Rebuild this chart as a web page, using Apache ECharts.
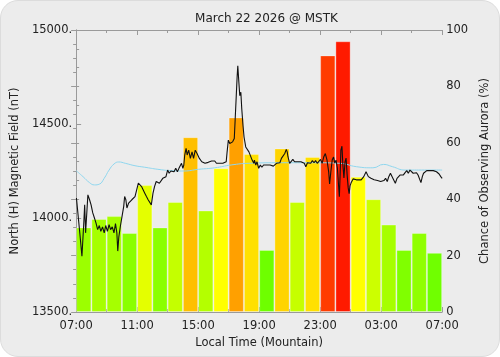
<!DOCTYPE html>
<html>
<head>
<meta charset="utf-8">
<script src="https://cdn.jsdelivr.net/npm/echarts@6/dist/echarts.min.js"></script>
<style>
  html, body { margin: 0; padding: 0; background: #ffffff; }
  #main { width: 500px; height: 357px; background: #ececec; border-radius: 18px; box-sizing: border-box; border: 1px solid #dcdcdc; }
</style>
</head>
<body>
<div id="main"></div>
<script>
// hourly aurora chance (%) starting 07:00 local
const hourCats = ["07", "08", "09", "10", "11", "12", "13", "14", "15", "16", "17", "18",
  "19", "20", "21", "22", "23", "00", "01", "02", "03", "04", "05", "06"];
const auroraChance = [30, 33, 34, 28, 45, 30, 39, 62, 36, 51, 69, 56,
  22, 58, 39, 55, 91, 96, 48, 40, 31, 22, 28, 21];
const barColors = ["#9cff00", "#a6ff00", "#a6ff00", "#8aff00", "#e4ff00", "#8aff00", "#c4ff00", "#ffbf00",
  "#b4ff00", "#ffff00", "#ffa000", "#ffe000", "#6eff00", "#ffd400", "#c6ff00", "#ffe000",
  "#ff3c00", "#ff1a00", "#ffff00", "#ccff00", "#a6ff00", "#80ff00", "#90ff00", "#70ff00"];

// time ticks every 4 hours
const timeLabels = ["07:00", "11:00", "15:00", "19:00", "23:00", "03:00", "07:00"];

// magnetometer trace: hours since 07:00, nT
const fieldHours = [
  0.02, 0.24, 0.38, 0.49, 0.56, 0.62, 0.77, 0.88, 0.98, 1.09, 1.2, 1.3, 1.41, 1.52, 1.62, 1.73, 1.84, 1.94,
  2.05, 2.16, 2.26, 2.37, 2.48, 2.58, 2.67, 2.73, 2.8, 2.9, 3.01, 3.12, 3.18, 3.26, 3.33, 3.44, 3.54, 3.65,
  3.76, 3.86, 3.97, 4.08, 4.18, 4.29, 4.4, 4.5, 4.61, 4.72, 4.82, 4.93, 5.04, 5.14, 5.25, 5.36, 5.46, 5.57,
  5.68, 5.78, 5.89, 6.0, 6.1, 6.21, 6.32, 6.42, 6.53, 6.64, 6.74, 6.85, 6.91, 7.0, 7.06, 7.12, 7.21, 7.28,
  7.38, 7.49, 7.6, 7.7, 7.81, 7.92, 7.98, 8.08, 8.24, 8.34, 8.45, 8.56, 8.66, 8.77, 8.88, 8.98, 9.09, 9.2,
  9.3, 9.41, 9.52, 9.62, 9.73, 9.84, 9.9, 9.98, 10.07, 10.16, 10.26, 10.37, 10.43, 10.5, 10.56, 10.6, 10.67,
  10.73, 10.8, 10.86, 10.94, 11.01, 11.12, 11.22, 11.33, 11.44, 11.54, 11.65, 11.69, 11.78, 11.86, 11.97,
  12.08, 12.18, 12.29, 12.4, 12.5, 12.61, 12.72, 12.82, 12.93, 13.04, 13.14, 13.25, 13.36, 13.46, 13.57,
  13.68, 13.78, 13.84, 13.89, 14.0, 14.1, 14.21, 14.32, 14.42, 14.53, 14.64, 14.74, 14.85, 14.96, 15.06,
  15.17, 15.28, 15.38, 15.49, 15.6, 15.7, 15.81, 15.92, 16.02, 16.13, 16.24, 16.34, 16.45, 16.56, 16.62,
  16.7, 16.79, 16.88, 16.96, 17.04, 17.13, 17.22, 17.26, 17.31, 17.36, 17.43, 17.49, 17.56, 17.63, 17.7,
  17.77, 17.84, 17.9, 17.96, 18.03, 18.16, 18.26, 18.37, 18.48, 18.69, 18.86, 19.01, 19.07, 19.16, 19.22,
  19.33, 19.44, 19.54, 19.65, 19.76, 19.86, 19.97, 20.08, 20.18, 20.29, 20.4, 20.5, 20.61, 20.72, 20.82,
  20.93, 21.04, 21.14, 21.25, 21.36, 21.46, 21.57, 21.68, 21.78, 21.89, 22.0, 22.1, 22.21, 22.32, 22.42,
  22.53, 22.61, 22.7, 22.78, 22.89, 22.99, 23.1, 23.21, 23.31, 23.42, 23.53, 23.63, 23.72, 23.8, 23.91, 24.0
];
const fieldNT = [
  14106, 13921, 13797, 13956, 14070, 13921, 14123, 14097, 14070, 14027, 14000, 13974, 13938, 13960, 13929, 13953, 13921, 13960,
  13929, 13965, 13938, 13953, 13921, 13970, 13921, 13824, 13900, 13956, 14009, 14062, 14114, 14097, 14053, 14079, 14070, 14097,
  14088, 14114, 14150, 14185, 14194, 14167, 14176, 14132, 14114, 14097, 14106, 14070, 14132, 14167, 14194, 14203, 14185, 14176,
  14211, 14203, 14220, 14255, 14238, 14250, 14255, 14246, 14264, 14246, 14264, 14255, 14291, 14264, 14282, 14335, 14370, 14335,
  14361, 14317, 14352, 14317, 14361, 14344, 14352, 14317, 14299, 14303, 14291, 14285, 14296, 14299, 14303, 14296, 14303, 14291,
  14299, 14291, 14296, 14291, 14291, 14299, 14352, 14414, 14396, 14387, 14405, 14423, 14528, 14651, 14757, 14810, 14722,
  14651, 14669, 14581, 14493, 14431, 14378, 14370, 14352, 14352, 14308, 14291, 14308, 14282, 14299, 14264,
  14282, 14270, 14282, 14273, 14282, 14273, 14282, 14273, 14276, 14282, 14291, 14299, 14294, 14317, 14326,
  14343, 14365, 14352, 14326, 14291, 14299, 14312, 14299, 14308, 14299, 14308, 14299, 14305, 14291, 14273,
  14294, 14299, 14291, 14305, 14294, 14305, 14291, 14299, 14312, 14291, 14326, 14343, 14308, 14245, 14181,
  14245, 14308, 14324, 14292, 14308, 14266, 14160, 14113, 14229, 14361, 14382, 14282, 14213, 14298, 14319,
  14229, 14160, 14129, 14171, 14187, 14208, 14218, 14203, 14211, 14203, 14220, 14246, 14238, 14220, 14229,
  14211, 14217, 14203, 14211, 14199, 14206, 14194, 14203, 14199, 14211, 14194, 14220, 14238, 14220, 14229,
  14185, 14211, 14220, 14229, 14238, 14229, 14241, 14252, 14238, 14255, 14246, 14238, 14229, 14241, 14229,
  14220, 14188, 14220, 14238, 14246, 14252, 14246, 14252, 14246, 14252, 14255, 14246, 14238, 14234, 14220, 14211
];

// smooth baseline (cyan)
const baseHours = [0, 0.45, 0.88, 1.2, 1.52, 1.84, 2.16, 2.48, 2.8, 3.22, 3.86, 4.5, 5.36, 6.21, 7.06, 8.02,
  9.09, 10.16, 11.33, 13.44, 15.62, 17.28, 18.37, 19.46, 20.16, 20.74, 21.57, 22.85, 24];
const baseNT = [14252, 14220, 14188, 14176, 14180, 14211, 14255, 14287, 14298, 14291, 14278, 14270, 14259, 14252, 14250, 14259,
  14267, 14282, 14291, 14294, 14294, 14291, 14273, 14267, 14285, 14273, 14255, 14255, 14255];

const chart = echarts.init(document.getElementById("main"));
const font = "DejaVu Sans";
const axisCol = "#9a9a9a";
const txt = "#222";

const option = {
  backgroundColor: "transparent",
  animation: false,
  textStyle: { fontFamily: font },
  title: {
    text: "March 22 2026 @ MSTK",
    left: 260.5, top: 7, textAlign: "center",
    textStyle: { fontFamily: font, fontSize: 12, fontWeight: "normal", color: txt }
  },
  grid: { left: 73, right: 52, top: 29, bottom: 44 },
  xAxis: [
    {
      type: "category", data: hourCats, show: false, boundaryGap: true
    },
    {
      type: "value", min: 0, max: 24, interval: 4, position: "bottom",
      name: "Local Time (Mountain)", nameLocation: "middle", nameGap: 23,
      nameTextStyle: { fontFamily: font, fontSize: 11.5, color: txt },
      axisLine: { lineStyle: { color: axisCol } },
      axisTick: { inside: true, length: 5, lineStyle: { color: axisCol } },
      minorTick: { show: true, splitNumber: 2, length: 3, lineStyle: { color: axisCol } },
      splitLine: { show: false },
      axisLabel: {
        fontFamily: font, fontSize: 11.5, color: txt, margin: 8,
        formatter: (v) => timeLabels[Math.round(v / 4)]
      }
    },
    {
      type: "value", min: 0, max: 24, interval: 4, position: "top",
      axisLine: { lineStyle: { color: axisCol } },
      axisTick: { inside: true, length: 5, lineStyle: { color: axisCol } },
      minorTick: { show: true, splitNumber: 2, length: 3, lineStyle: { color: axisCol } },
      splitLine: { show: false },
      axisLabel: { show: false }
    }
  ],
  yAxis: [
    {
      type: "value", min: 13500, max: 15000, interval: 500, position: "left",
      name: "North (H) Magnetic Field (nT)", nameLocation: "middle", nameGap: 50, nameRotate: 90,
      nameTextStyle: { fontFamily: font, fontSize: 11.5, color: txt },
      axisLine: { show: true, lineStyle: { color: axisCol } },
      axisTick: { inside: true, length: 5, lineStyle: { color: axisCol } },
      minorTick: { show: true, splitNumber: 5, length: 3, lineStyle: { color: axisCol } },
      splitLine: { show: false },
      axisLabel: { fontFamily: font, fontSize: 11.5, color: txt, margin: 4, formatter: (v) => v + "." }
    },
    {
      type: "value", min: 0, max: 100, interval: 20, position: "right",
      name: "Chance of Observing Aurora (%)", nameLocation: "middle", nameGap: 30, nameRotate: 90,
      nameTextStyle: { fontFamily: font, fontSize: 11.5, color: txt },
      axisLine: { show: true, lineStyle: { color: axisCol } },
      axisTick: { inside: true, length: 5, lineStyle: { color: axisCol } },
      minorTick: { show: true, splitNumber: 4, length: 3, lineStyle: { color: axisCol } },
      splitLine: { show: false },
      axisLabel: { fontFamily: font, fontSize: 11.5, color: txt, margin: 4 }
    }
  ],
  series: [
    {
      type: "bar", xAxisIndex: 0, yAxisIndex: 1,
      barCategoryGap: "0%",
      data: auroraChance.map((v, i) => ({ value: v, itemStyle: { color: barColors[i] } })),
      itemStyle: { borderColor: "rgba(255,255,255,0.3)", borderWidth: 1 },
      z: 1
    },
    {
      type: "line", xAxisIndex: 1, yAxisIndex: 0, smooth: true, showSymbol: false,
      data: baseHours.map((h, i) => [h, baseNT[i]]),
      lineStyle: { color: "#8fd6ee", width: 1 },
      z: 3
    },
    {
      type: "line", xAxisIndex: 1, yAxisIndex: 0, showSymbol: false,
      data: fieldHours.map((h, i) => [h, fieldNT[i]]),
      lineStyle: { color: "#111", width: 1.1 },
      z: 4
    }
  ]
};
chart.setOption(option);
</script>
</body>
</html>
